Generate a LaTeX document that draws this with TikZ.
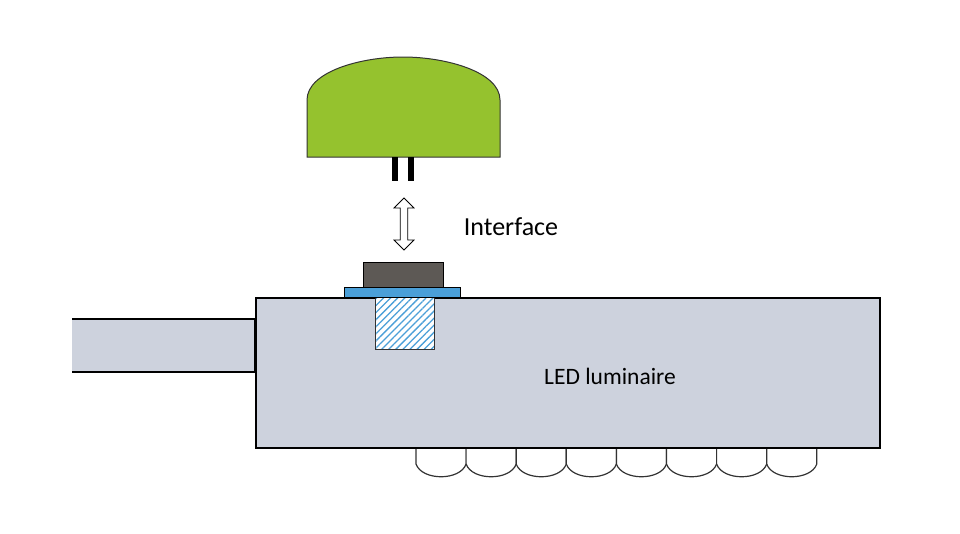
\documentclass[tikz,border=0pt]{standalone}
\usepackage{fontspec}
\setmainfont{Carlito}
\usetikzlibrary{patterns,patterns.meta,shapes.arrows}
\definecolor{dome}{HTML}{95C22E}
\definecolor{body}{HTML}{CDD2DD}
\definecolor{dark}{HTML}{5D5955}
\definecolor{blue}{HTML}{4A9FD8}
\tikzset{ol/.style={draw=black,line width=2pt}, led/.style={draw=black!80,line width=1.2pt,fill=white}}
\begin{document}
\begin{tikzpicture}[x=1pt,y=-1pt]
\useasboundingbox (0,0) rectangle (960,533);
% cable
\filldraw[fill=body,ol] (72,319) -- (255,319) -- (255,372) -- (72,372);
% LEDs
\foreach \i in {0,...,7}{
  \pgfmathsetmacro\xa{416+\i*50.1}
  \pgfmathsetmacro\xb{\xa+50.1}
  \draw[led] (\xa,447) -- (\xa,464) .. controls (\xa+6,481) and (\xb-6,481) .. (\xb,464) -- (\xb,447);
}
% body
\node[ol,fill=body,minimum width=624pt,minimum height=150pt,inner sep=0,anchor=north west] (lum) at (255,297) {};
\node at (610,376) (lt) {\fontsize{23.5}{26}\selectfont LED luminaire};
% hatch
\fill[white] (375,297) rectangle (434,349);
\filldraw[pattern={Lines[angle=45,distance=5pt,line width=1.3pt]},pattern color=blue,draw=black!80,line width=1pt] (375,297) rectangle (434,349);
% blue plate and dark box
\node[draw=black,line width=1pt,fill=blue,minimum width=116pt,minimum height=10pt,inner sep=0,anchor=north west] (plate) at (344,287) {};
\node[draw=black,line width=1pt,fill=dark,minimum width=80pt,minimum height=25pt,inner sep=0,anchor=north west] (sock) at (363,262) {};
% dome
\filldraw[fill=dome,draw=black!80,line width=1pt] (307,157) -- (307,100) .. controls (307,72) and (360,57) .. (403,57) .. controls (446,57) and (500,72) .. (500,100) -- (500,157) -- cycle;
\fill[black] (392,157) rectangle (398,181);
\fill[black] (408,157) rectangle (414,181);
% arrow
\node[double arrow,draw=black,fill=white,line width=0.8pt,rotate=90,minimum width=20pt,minimum height=52pt,double arrow head extend=5pt,inner sep=2.5pt] (arr) at (404,224) {};
\node (if) at (511,227) {\fontsize{26}{28}\selectfont Interface};
\end{tikzpicture}
\end{document}
